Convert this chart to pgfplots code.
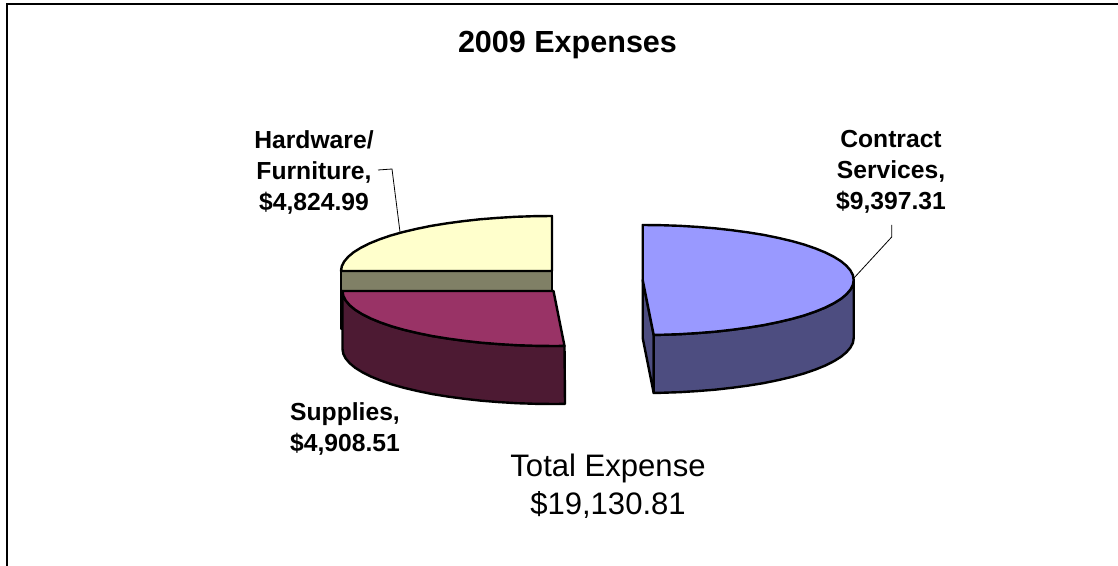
\documentclass[border=0pt]{standalone}
\usepackage{fontspec}
\setmainfont{Liberation Sans}
\usepackage{pgfplots}
\pgfplotsset{compat=1.18}
\definecolor{contractTop}{HTML}{9999FF}
\definecolor{contractSide}{HTML}{4D4D80}
\definecolor{suppliesTop}{HTML}{993366}
\definecolor{suppliesSide}{HTML}{4D1A33}
\definecolor{hardwareTop}{HTML}{FFFFCC}
\definecolor{hardwareSide}{HTML}{808066}
\tikzset{
    pie/.style={draw=black, line width=1.8pt, line join=round},
    leader/.style={draw=black, line width=0.6pt},
    lab/.style={font=\fontsize{18.5}{23.25}\selectfont\bfseries, align=center},
}
\begin{document}
\begin{tikzpicture}
\begin{axis}[
    scale only axis,
    width=838.5pt,
    height=424.5pt,
    xmin=0, xmax=1118,
    ymin=0, ymax=566,
    y dir=reverse,
    hide axis,
]
% frame
\addplot[draw=black, line width=1.3pt] coordinates {(7,566) (7,4) (1118,4)};

% Hardware/Furniture
\addplot[pie, fill=hardwareSide] coordinates {
    (341,271) (552,271) (552,329) (341,329)
} -- cycle;
\addplot[pie, fill=hardwareTop] coordinates {
    (552,271) (552,216) (533.6,216.2) (515.4,216.8) (497.4,217.9) (479.8,219.3)
    (462.8,221.2) (446.5,223.4) (431,225.9) (416.4,228.9) (402.8,232.1) (390.4,235.6)
    (379.1,239.5) (369.3,243.5) (360.8,247.8) (353.7,252.2) (348.2,256.8) (344.2,261.5)
    (341.8,266.2) (341,271)
} -- cycle;

% Supplies
\addplot[pie, fill=suppliesSide] coordinates {
    (342.5,291) (342.5,349) (343.3,353.8) (345.7,358.5) (349.7,363.2) (355.2,367.8)
    (362.3,372.2) (370.8,376.5) (380.6,380.5) (391.9,384.4) (404.3,387.9) (417.9,391.1)
    (432.5,394.1) (448,396.6) (464.3,398.8) (481.3,400.7) (498.9,402.1) (516.9,403.2)
    (535.1,403.8) (553.5,404) (565,403.9)
    (564.5,345.9) (553.5,346) (535.1,345.8) (516.9,345.2) (498.9,344.1) (481.3,342.7)
    (464.3,340.8) (448,338.6) (432.5,336.1) (417.9,333.1) (404.3,329.9) (391.9,326.4)
    (380.6,322.5) (370.8,318.5) (362.3,314.2) (355.2,309.8) (349.7,305.2) (345.7,300.5)
    (343.3,295.8)
} -- cycle;
\addplot[pie, fill=suppliesTop] coordinates {
    (553.5,291) (564.5,345.9) (553.5,346) (535.1,345.8) (516.9,345.2) (498.9,344.1)
    (481.3,342.7) (464.3,340.8) (448,338.6) (432.5,336.1) (417.9,333.1) (404.3,329.9)
    (391.9,326.4) (380.6,322.5) (370.8,318.5) (362.3,314.2) (355.2,309.8) (349.7,305.2)
    (345.7,300.5) (343.3,295.8) (342.5,291)
} -- cycle;

% Contract Services
\addplot[pie, fill=contractSide] coordinates {
    (642.7,280) (642.7,338) (653.7,393) (653.7,335)
} -- cycle;
\addplot[pie, fill=contractSide] coordinates {
    (853.7,280) (853.7,338) (852.9,342.8) (850.5,347.5) (846.5,352.2) (841,356.8)
    (833.9,361.2) (825.4,365.5) (815.6,369.5) (804.3,373.4) (791.9,376.9) (778.3,380.1)
    (763.7,383.1) (748.2,385.6) (731.9,387.8) (714.9,389.7) (697.3,391.1) (679.3,392.2)
    (661.1,392.8) (653.7,392.9)
    (653.7,334.9) (661.1,334.8) (679.3,334.2) (697.3,333.1) (714.9,331.7) (731.9,329.8)
    (748.2,327.6) (763.7,325.1) (778.3,322.1) (791.9,318.9) (804.3,315.4) (815.6,311.5)
    (825.4,307.5) (833.9,303.2) (841,298.8) (846.5,294.2) (850.5,289.5) (852.9,284.8)
} -- cycle;
\addplot[pie, fill=contractTop] coordinates {
    (642.7,280) (642.7,225) (661.1,225.2) (679.3,225.8) (697.3,226.9) (714.9,228.3)
    (731.9,230.2) (748.2,232.4) (763.7,234.9) (778.3,237.9) (791.9,241.1) (804.3,244.6)
    (815.6,248.5) (825.4,252.5) (833.9,256.8) (841,261.2) (846.5,265.8) (850.5,270.5)
    (852.9,275.2) (853.7,280)
    (852.9,284.8) (850.5,289.5) (846.5,294.2) (841,298.8) (833.9,303.2) (825.4,307.5)
    (815.6,311.5) (804.3,315.4) (791.9,318.9) (778.3,322.1) (763.7,325.1) (748.2,327.6)
    (731.9,329.8) (714.9,331.7) (697.3,333.1) (679.3,334.2) (661.1,334.8) (653.7,334.9)
} -- cycle;

% leader lines
\addplot[leader] coordinates {(378,170) (392,169) (400,232)};
\addplot[leader] coordinates {(891.7,225) (891.7,237) (854,278)};

% texts
\node[font=\fontsize{22.9}{28}\selectfont\bfseries] at (axis cs:567.5,45) {2009 Expenses};
\node[lab] at (axis cs:314,172) {Hardware/\\Furniture,\\\$4,824.99};
\node[lab] at (axis cs:891,172) {Contract\\Services,\\\$9,397.31};
\node[lab] at (axis cs:345,429) {Supplies,\\\$4,908.51};
\node[font=\fontsize{23.3}{28.5}\selectfont, align=center] at (axis cs:608,486) {Total Expense\\\$19,130.81};
\end{axis}
\useasboundingbox (0,0) rectangle (838.5pt,424.5pt);
\end{tikzpicture}
\end{document}
